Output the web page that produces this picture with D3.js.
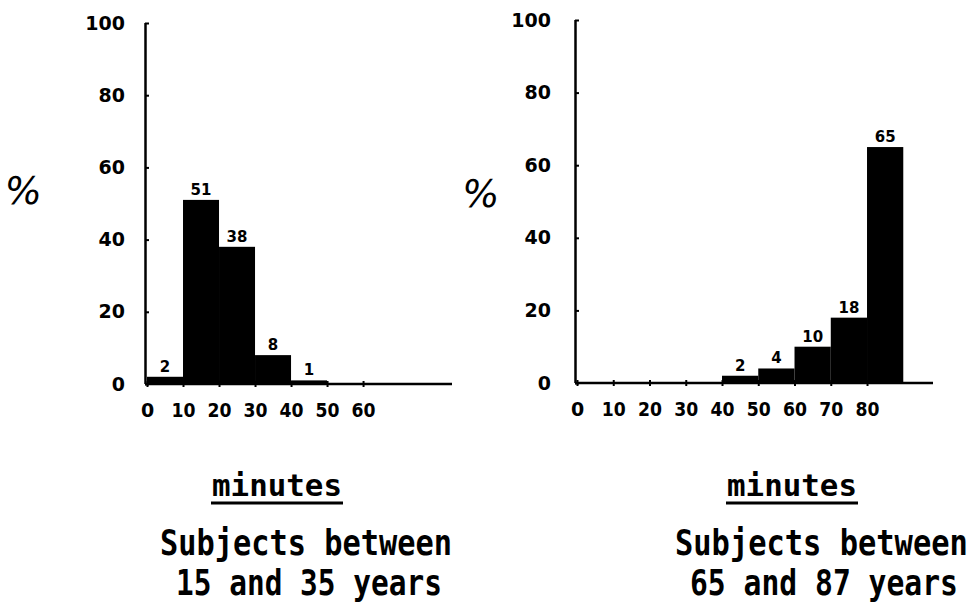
<!DOCTYPE html>
<html><head><meta charset="utf-8">
<script src="https://cdn.jsdelivr.net/npm/d3@7"></script>
<style>
html,body{margin:0;padding:0;background:#fff;}
svg{display:block;}
</style></head>
<body>
<svg id="c" width="976" height="605"></svg>
<script>
// ---- data ----
const yTicks = [0, 20, 40, 60, 80, 100];
const binsYoung = [0, 10, 20, 30, 40];
const valuesYoung = [2, 51, 38, 8, 1];
const xTicksYoung = [0, 10, 20, 30, 40, 50, 60];
const binsOld = [40, 50, 60, 70, 80];
const valuesOld = [2, 4, 10, 18, 65];
const xTicksOld = [0, 10, 20, 30, 40, 50, 60, 70, 80];
const axisTitle = "minutes";
const captionYoung = ["Subjects between", "15 and 35 years"];
const captionOld = ["Subjects between", "65 and 87 years"];
const binWidth = 10;

const svg = d3.select("#c");
const numFont = "'DejaVu Sans', sans-serif";
const monoFont = "'DejaVu Sans Mono', 'Liberation Mono', monospace";

function fitText(sel, x, y, w, sy) {
  const n = sel.node().getComputedTextLength();
  sel.attr("transform", `translate(${x},${y}) scale(${w / n},${sy})`);
}

function panel(opt) {
  const g = svg.append("g");
  const x = d3.scaleLinear().domain([0, opt.xMax]).range([opt.x0, opt.x1]);
  const y = d3.scaleLinear().domain([0, 100]).range([opt.y0, opt.y1]);
  const rows = opt.bins.map((b, i) => ({b, v: opt.values[i]}));

  // bars
  g.selectAll("rect.bar").data(rows)
    .enter().append("rect").attr("class", "bar")
    .attr("x", d => x(d.b)).attr("width", d => x(d.b + binWidth) - x(d.b))
    .attr("y", d => y(d.v)).attr("height", d => y(0) - y(d.v))
    .attr("fill", "#000");

  // value labels
  g.selectAll("text.val").data(rows)
    .enter().append("text").attr("class", "val")
    .attr("x", d => x(d.b + binWidth / 2)).attr("y", d => y(d.v) - 5)
    .attr("text-anchor", "middle").attr("font-family", numFont)
    .attr("font-weight", "bold").attr("font-size", 15).text(d => d.v);

  // y axis
  const ya = d3.axisLeft(y).tickValues(yTicks).tickSize(3).tickPadding(opt.yPad);
  const yg = g.append("g").attr("transform", `translate(${opt.x0},0)`).call(ya);
  yg.select(".domain").attr("stroke-width", 2.5).attr("d", `M-1.5,${opt.y0}V${opt.y1}`);
  yg.selectAll(".tick line").attr("stroke-width", 2).attr("x1", 2).attr("x2", -2);
  yg.selectAll(".tick text").attr("font-family", numFont).attr("font-weight", "bold")
    .attr("font-size", 19).attr("fill", "#000");

  // x axis
  const xa = d3.axisBottom(x).tickValues(opt.xTicks).tickSize(3).tickPadding(17);
  const xg = g.append("g").attr("transform", `translate(0,${opt.y0})`).call(xa);
  xg.select(".domain").attr("stroke-width", 2.5).attr("d", `M${opt.x0 - 2},0H${opt.x1}`);
  xg.selectAll(".tick line").attr("stroke-width", 2).attr("y1", -3).attr("y2", 3);
  xg.selectAll(".tick text").attr("font-family", numFont).attr("font-weight", "bold")
    .attr("font-size", 19).attr("fill", "#000").attr("textLength", d => d === 0 ? null : 24)
    .attr("lengthAdjust", "spacingAndGlyphs");

  // % label
  g.append("text").attr("x", opt.pctX).attr("y", opt.pctY)
    .attr("text-anchor", "middle").attr("font-family", numFont)
    .attr("font-size", 38).attr("transform", `skewX(-8)`).text("%");

  // axis title
  const t = g.append("text").attr("font-family", monoFont).attr("font-weight", "bold")
    .attr("font-size", 28).text(axisTitle);
  fitText(t, opt.titleX - 65, 496, 130, 1.05);
  g.append("line").attr("x1", opt.titleX - 66).attr("x2", opt.titleX + 66)
    .attr("y1", 503).attr("y2", 503).attr("stroke", "#000").attr("stroke-width", 3);

  // caption
  opt.caption.forEach((s, i) => {
    const c = g.append("text").attr("font-family", monoFont).attr("font-weight", "bold")
      .attr("font-size", 28).text(s);
    fitText(c, opt.capX[i], [555, 595][i], opt.capW[i], 1.28);
  });
}

panel({
  bins: binsYoung, values: valuesYoung, xTicks: xTicksYoung,
  xMax: 84.7, x0: 147, x1: 452, y0: 384, y1: 23, yPad: 19,
  pctX: 50, pctY: 204, titleX: 277,
  caption: captionYoung, capX: [160, 176], capW: [292, 266]
});
panel({
  bins: binsOld, values: valuesOld, xTicks: xTicksOld,
  xMax: 98.2, x0: 577, x1: 933, y0: 383, y1: 20, yPad: 23,
  pctX: 508, pctY: 207, titleX: 792,
  caption: captionOld, capX: [675, 690], capW: [293, 268]
});
</script>
</body></html>
